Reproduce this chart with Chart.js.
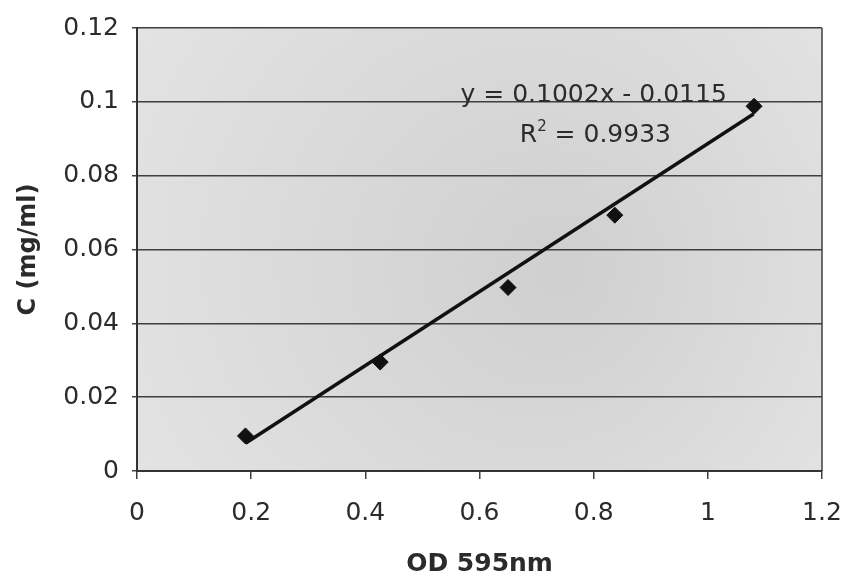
<!DOCTYPE html>
<html>
<head>
<meta charset="utf-8">
<title>C vs OD 595nm</title>
<script src="https://cdn.jsdelivr.net/npm/chart.js@4.4.1/dist/chart.umd.min.js"></script>
<style>
  body { margin: 0; background: #fff; }
  #wrap { width: 849px; height: 581px; }
</style>
</head>
<body>
<div id="wrap"><canvas id="stdChart" width="849" height="581"></canvas></div>
<script>
// measured points (OD 595nm vs concentration)
const odValues = [0.19, 0.426, 0.65, 0.837, 1.081];
const concValues = [0.0095, 0.0295, 0.0497, 0.0693, 0.0988];

// linear trend line ends, as drawn
const trendX = [0.19, 1.08];
const trendY = [0.0075, 0.0967];

const xTickLabels = ['0', '0.2', '0.4', '0.6', '0.8', '1', '1.2'];
const yTickLabels = ['0', '0.02', '0.04', '0.06', '0.08', '0.1', '0.12'];

const eqText = 'y = 0.1002x - 0.0115';
const r2Value = '0.9933';

const textColor = '#2b2b2b';
const lineColor = '#3f3f3f';

const plotBackground = {
    id: 'plotBackground',
    beforeDraw(chart) {
        const { ctx, chartArea: a } = chart;
        const g = ctx.createRadialGradient(a.left + a.width * 0.62, a.top + a.height * 0.55, 20,
            a.left + a.width * 0.5, a.top + a.height * 0.5, a.width * 0.7);
        g.addColorStop(0, '#d0d0d0');
        g.addColorStop(1, '#e6e6e6');
        ctx.save();
        ctx.fillStyle = g;
        ctx.fillRect(a.left, a.top, a.width, a.height);
        ctx.restore();
    },
    afterDraw(chart) {
        const { ctx, chartArea: a } = chart;
        ctx.save();
        ctx.strokeStyle = lineColor;
        ctx.lineWidth = 1.5;
        ctx.beginPath();
        ctx.moveTo(a.right, a.top);
        ctx.lineTo(a.right, a.bottom);
        ctx.stroke();
        ctx.restore();
    }
};

const equationLabel = {
    id: 'equationLabel',
    afterDatasetsDraw(chart) {
        const { ctx, scales: { x, y } } = chart;
        ctx.save();
        ctx.fillStyle = textColor;
        ctx.font = '25px "DejaVu Sans"';
        ctx.textBaseline = 'middle';
        ctx.textAlign = 'center';
        ctx.fillText(eqText, x.getPixelForValue(0.8), y.getPixelForValue(0.1017));

        // R² line with a raised small 2
        const cx = x.getPixelForValue(0.803);
        const cy = y.getPixelForValue(0.091);
        const partA = 'R';
        const partC = ' = ' + r2Value;
        ctx.font = '25px "DejaVu Sans"';
        const wA = ctx.measureText(partA).width;
        const wC = ctx.measureText(partC).width;
        ctx.font = '15px "DejaVu Sans"';
        const wB = ctx.measureText('2').width;
        let left = cx - (wA + wB + wC) / 2;
        ctx.textAlign = 'left';
        ctx.font = '25px "DejaVu Sans"';
        ctx.fillText(partA, left, cy);
        ctx.font = '15px "DejaVu Sans"';
        ctx.fillText('2', left + wA, cy - 8);
        ctx.font = '25px "DejaVu Sans"';
        ctx.fillText(partC, left + wA + wB, cy);
        ctx.restore();
    }
};

const ctx = document.getElementById('stdChart').getContext('2d');

const stdChart = new Chart(ctx, {
    type: 'scatter',
    data: {
        datasets: [{
            label: 'Trend',
            type: 'line',
            data: trendX.map((v, i) => ({ x: v, y: trendY[i] })),
            borderColor: '#111',
            borderWidth: 3.5,
            pointRadius: 0,
            fill: false
        }, {
            label: 'C (mg/ml)',
            data: odValues.map((v, i) => ({ x: v, y: concValues[i] })),
            pointStyle: 'rectRot',
            pointRadius: 8,
            backgroundColor: '#111',
            borderColor: '#111',
            borderWidth: 1
        }]
    },
    options: {
        responsive: false,
        animation: false,
        layout: { padding: { top: 24, right: 27, left: 0, bottom: 0 } },
        plugins: {
            legend: { display: false },
            tooltip: { enabled: false }
        },
        scales: {
            x: {
                type: 'linear',
                min: 0,
                max: 1.2,
                afterFit: (scale) => {
                    scale.height = 110;
                    scale.paddingLeft = 0;
                    scale.paddingRight = 0;
                },
                ticks: {
                    stepSize: 0.2,
                    padding: 19,
                    color: textColor,
                    font: { family: 'DejaVu Sans', size: 25 },
                    maxRotation: 0,
                    callback: (value, index) => xTickLabels[index]
                },
                grid: {
                    drawOnChartArea: false,
                    drawTicks: true,
                    tickLength: 8,
                    color: lineColor,
                    lineWidth: 1.5
                },
                border: { color: '#333', width: 2 },
                title: {
                    display: true,
                    text: 'OD 595nm',
                    color: textColor,
                    font: { family: 'DejaVu Sans', size: 25, weight: 'bold' },
                    padding: { top: 0, bottom: 2 }
                }
            },
            y: {
                min: 0,
                max: 0.12,
                afterFit: (scale) => { scale.width = 137; },
                ticks: {
                    stepSize: 0.02,
                    padding: 13,
                    color: textColor,
                    font: { family: 'DejaVu Sans', size: 25 },
                    callback: (value, index) => yTickLabels[index]
                },
                grid: {
                    color: lineColor,
                    lineWidth: 1.5,
                    tickLength: 5
                },
                border: { color: '#333', width: 2 },
                title: {
                    display: true,
                    text: 'C (mg/ml)',
                    color: textColor,
                    font: { family: 'DejaVu Sans', size: 24, weight: 'bold' },
                    padding: { top: 14, bottom: 0 }
                }
            }
        }
    },
    plugins: [plotBackground, equationLabel]
});
</script>
</body>
</html>
